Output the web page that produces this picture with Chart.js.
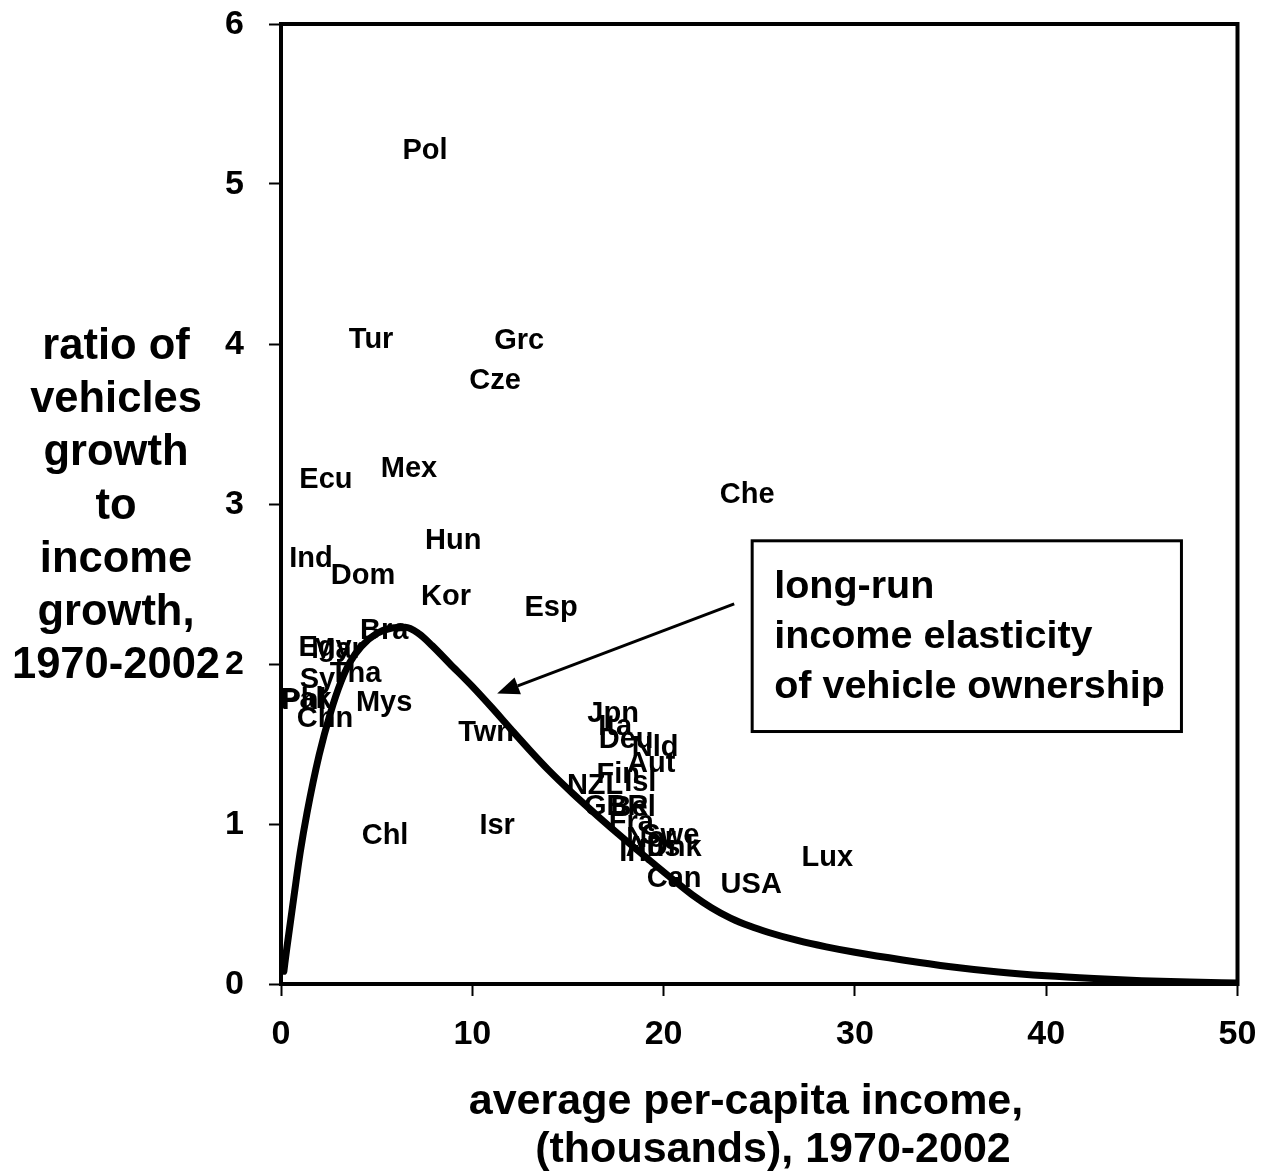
<!DOCTYPE html>
<html>
<head>
<meta charset="utf-8">
<script src="https://cdn.jsdelivr.net/npm/chart.js@4/dist/chart.umd.min.js"></script>
<style>
  html, body { margin: 0; padding: 0; background: #fff; }
  #wrap { width: 1261px; height: 1175px; position: relative; }
</style>
</head>
<body>
<div id="wrap"><canvas id="c" width="1261" height="1175"></canvas></div>
<script>
// Country observations: average income (thousands) vs ratio of vehicle growth to income growth
const countries = ['Pol','Tur','Grc','Cze','Ecu','Mex','Che','Hun','Ind','Dom','Kor','Esp','Bra',
  'Egy','Mar','Syr','Tha','Pak','Phl','Chn','Mys','Twn','Chl','Isr',
  'Jpn','Ita','Deu','Nld','Aut','Fin','Isl','NZL','GBR','Bel','Fra','Nor','Swe','Irl','Dnk','Aus','Can','USA','Lux'];
const income = [7.53, 4.71, 12.45, 11.19, 2.35, 6.69, 24.37, 9.0, 1.57, 4.29, 8.63, 14.12, 5.39,
  2.3, 2.93, 2.2, 3.9, 1.3, 1.2, 2.3, 5.39, 10.72, 5.44, 11.3,
  17.36, 17.47, 18.04, 19.56, 19.35, 17.63, 18.78, 16.42, 17.52, 18.41, 18.31, 19.35, 20.35, 18.4, 20.55, 19.45, 20.55, 24.58, 28.56];
const ratio = [5.22, 4.04, 4.03, 3.78, 3.16, 3.23, 3.07, 2.78, 2.67, 2.56, 2.43, 2.36, 2.22,
  2.11, 2.10, 1.91, 1.95, 1.79, 1.78, 1.67, 1.77, 1.58, 0.94, 1.0,
  1.70, 1.62, 1.54, 1.49, 1.39, 1.32, 1.27, 1.25, 1.12, 1.11, 1.02, 0.92, 0.94, 0.83, 0.86, 0.86, 0.67, 0.63, 0.80];

// Fitted long-run elasticity curve
const curveX = [0.15, 0.3, 0.68, 1.0, 1.36, 1.99, 2.6, 3.14, 3.6, 4.2, 5.0, 5.8, 6.5, 7.2, 7.9, 8.8, 10.0, 11.0, 12.0, 13.0, 14.0,
  15.3, 16.6, 17.9, 19.2, 20.5, 21.5, 22.5, 23.5, 24.5, 25.5, 27, 28.5, 30, 32.5, 35, 37.5, 40, 42.5, 45, 47.5, 50];
const curveY = [0.08, 0.22, 0.55, 0.82, 1.07, 1.43, 1.70, 1.89, 2.01, 2.11, 2.19, 2.225, 2.23, 2.19, 2.115, 2.005, 1.86, 1.73, 1.595, 1.462, 1.335,
  1.185, 1.045, 0.91, 0.78, 0.652, 0.557, 0.477, 0.412, 0.362, 0.322, 0.272, 0.232, 0.198, 0.15, 0.108, 0.075, 0.051, 0.034, 0.021, 0.012, 0.006];

const xTicks = [0, 10, 20, 30, 40, 50];
const yTicks = [0, 1, 2, 3, 4, 5, 6];

const yTitle = ['ratio of', 'vehicles', 'growth', 'to', 'income', 'growth,', '1970-2002'];
const xTitle = ['average per-capita income,', '(thousands), 1970-2002'];
const noteLines = ['long-run', 'income elasticity', 'of vehicle ownership'];

const FONT = '"Liberation Sans", Arial, Helvetica, sans-serif';

const decorations = {
  id: 'decorations',
  afterDatasetsDraw(chart) {
    const ctx = chart.ctx;
    const xs = chart.scales.x, ys = chart.scales.y;
    const a = chart.chartArea;
    ctx.save();
    // frame round the plot
    ctx.strokeStyle = '#000';
    ctx.lineWidth = 4;
    ctx.strokeRect(a.left, a.top, a.right - a.left, a.bottom - a.top);

    // country labels centred on their values
    ctx.fillStyle = '#000';
    ctx.font = 'bold 29px ' + FONT;
    ctx.textAlign = 'center';
    ctx.textBaseline = 'middle';
    countries.forEach((name, i) => {
      ctx.fillText(name, xs.getPixelForValue(income[i]), ys.getPixelForValue(ratio[i]) + 2);
    });

    // y axis title, horizontal lines
    ctx.font = 'bold 43.5px ' + FONT;
    yTitle.forEach((t, i) => ctx.fillText(t, 116, 347 + i * 53.2));
    // x axis title
    ctx.font = 'bold 43px ' + FONT;
    ctx.fillText(xTitle[0], 746, 1102);
    ctx.fillText(xTitle[1], 773, 1150);

    // note box
    const bx0 = xs.getPixelForValue(24.63), by0 = ys.getPixelForValue(2.77);
    const bx1 = xs.getPixelForValue(47.07), by1 = ys.getPixelForValue(1.578);
    ctx.fillStyle = '#fff';
    ctx.fillRect(bx0, by0, bx1 - bx0, by1 - by0);
    ctx.lineWidth = 3;
    ctx.strokeRect(bx0, by0, bx1 - bx0, by1 - by0);
    ctx.fillStyle = '#000';
    ctx.font = 'bold 39.5px ' + FONT;
    ctx.textAlign = 'left';
    noteLines.forEach((t, i) => ctx.fillText(t, bx0 + 22, by0 + 46 + i * 50));

    // arrow from the note to the curve
    const ax0 = xs.getPixelForValue(23.69), ay0 = ys.getPixelForValue(2.376);
    const ax1 = xs.getPixelForValue(11.3), ay1 = ys.getPixelForValue(1.815);
    const ang = Math.atan2(ay1 - ay0, ax1 - ax0);
    const hl = 22, hw = 9;
    const bxh = ax1 - hl * Math.cos(ang), byh = ay1 - hl * Math.sin(ang);
    ctx.lineWidth = 3;
    ctx.beginPath();
    ctx.moveTo(ax0, ay0);
    ctx.lineTo(bxh, byh);
    ctx.stroke();
    ctx.beginPath();
    ctx.moveTo(ax1, ay1);
    ctx.lineTo(bxh + hw * Math.sin(ang), byh - hw * Math.cos(ang));
    ctx.lineTo(bxh - hw * Math.sin(ang), byh + hw * Math.cos(ang));
    ctx.closePath();
    ctx.fill();
    ctx.restore();
  }
};

new Chart(document.getElementById('c'), {
  type: 'scatter',
  data: {
    datasets: [{
      type: 'line',
      data: curveX.map((x, i) => ({ x, y: curveY[i] })),
      borderColor: '#000',
      borderWidth: 7,
      pointRadius: 0,
      fill: false,
      cubicInterpolationMode: 'monotone',
      borderCapStyle: 'round',
      borderJoinStyle: 'round'
    }]
  },
  options: {
    responsive: false,
    animation: false,
    events: [],
    layout: { padding: { top: 24, right: 23.5, left: 0, bottom: 0 } },
    plugins: { legend: { display: false }, tooltip: { enabled: false } },
    scales: {
      x: {
        type: 'linear', min: 0, max: 50,
        afterBuildTicks: s => { s.ticks = xTicks.map(v => ({ value: v })); },
        afterFit: s => { s.height = 191; s.paddingLeft = 0; s.paddingRight = 0; },
        border: { display: true, color: '#000', width: 4 },
        grid: { drawOnChartArea: false, drawTicks: true, tickLength: 12, tickWidth: 2, color: '#000' },
        ticks: { color: '#000', padding: 18, font: { family: FONT, size: 34, weight: 'bold' }, maxRotation: 0 }
      },
      y: {
        type: 'linear', min: 0, max: 6,
        afterBuildTicks: s => { s.ticks = yTicks.map(v => ({ value: v })); },
        afterFit: s => { s.width = 281; s.paddingTop = 0; s.paddingBottom = 0; },
        border: { display: true, color: '#000', width: 4 },
        grid: { drawOnChartArea: false, drawTicks: true, tickLength: 12, tickWidth: 2, color: '#000' },
        ticks: { color: '#000', padding: 25, labelOffset: 1, font: { family: FONT, size: 34, weight: 'bold' } }
      }
    }
  },
  plugins: [decorations]
});
</script>
</body>
</html>
